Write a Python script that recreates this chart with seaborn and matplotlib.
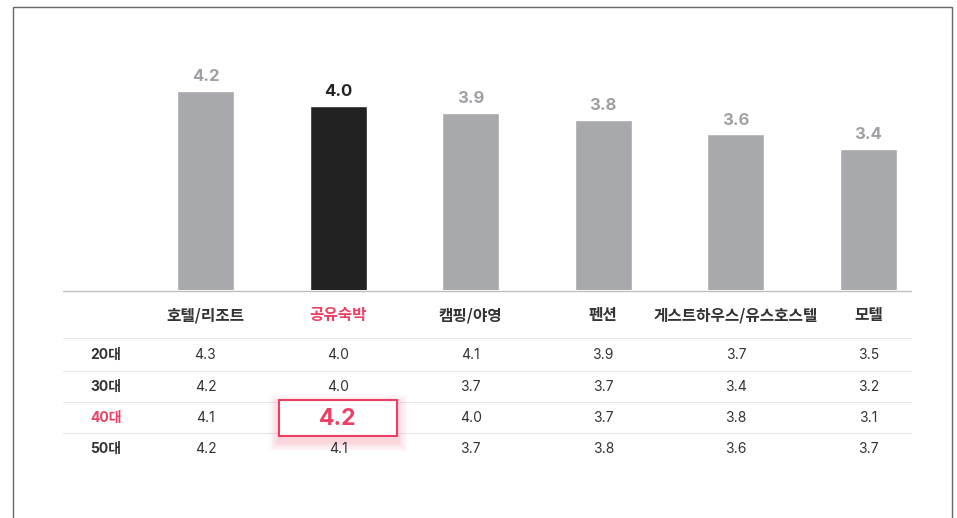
import matplotlib
matplotlib.use('Agg')
import matplotlib.pyplot as plt
import matplotlib.patches as mpatches
import seaborn as sns
import pandas as pd

# data
categories = ['호텔/리조트', '공유숙박', '캠핑/야영', '펜션', '게스트하우스/유스호스텔', '모텔']
overall = [4.2, 4.0, 3.9, 3.8, 3.6, 3.4]
age_groups = ['20대', '30대', '40대', '50대']
by_age = {
    '20대': [4.3, 4.0, 4.1, 3.9, 3.7, 3.5],
    '30대': [4.2, 4.0, 3.7, 3.7, 3.4, 3.2],
    '40대': [4.1, 4.2, 4.0, 3.7, 3.8, 3.1],
    '50대': [4.2, 4.1, 3.7, 3.8, 3.6, 3.7],
}
focus_cat = '공유숙박'
focus_age = '40대'

GRAY = '#a8a9ad'
BLACK = '#222222'
PINK = '#ee3f63'
TEXT = '#333333'
NUM_FONT = ['Inter', 'Noto Sans CJK KR', 'DejaVu Sans']

sns.set_theme(style='white')
plt.rcParams['font.family'] = ['Noto Sans CJK KR', 'DejaVu Sans']

W, H = 957, 518
fig = plt.figure(figsize=(W / 100, H / 100), dpi=100)

# frame border
fig.patches.append(mpatches.Rectangle((13 / W, -0.01), (952 - 13) / W, (H - 7) / H + 0.01,
                                      transform=fig.transFigure, fill=False,
                                      edgecolor='#666666', linewidth=1.0))

x0, x1 = 63, 912
left = x0 / W
width = (x1 - x0) / W
# category positions: center of first bar at 205.5px, step 132.6px
step = 132.6
xlim = (-(205.5 - x0) / step, (x1 - 205.5) / step)

# bar axes: baseline at y=290px
base_px, top_px = 290, 20
ax = fig.add_axes([left, (H - base_px) / H, width, (base_px - top_px) / H])
df = pd.DataFrame({'cat': categories, 'score': overall})
colors = [BLACK if c == focus_cat else GRAY for c in categories]
sns.barplot(data=df, x='cat', y='score', hue='cat', palette=colors, order=categories,
            hue_order=categories, width=0.43, legend=False, ax=ax, saturation=1)
px_per_unit = 72
v0 = 1.44
ax.set_xlim(*xlim)
ax.set_ylim(v0, v0 + (base_px - top_px) / px_per_unit)
for i, (c, v) in enumerate(zip(categories, overall)):
    ax.annotate(f'{v:.1f}', (i, v), xytext=(0, 5), textcoords='offset points',
                ha='center', va='bottom', fontsize=12, fontweight='bold', family=NUM_FONT,
                color=BLACK if c == focus_cat else '#9fa0a4')
ax.axis('off')

# table axes, y in pixel units
tax = fig.add_axes([left, 0, width, (H - base_px) / H])
tax.set_xlim(*xlim)
tax.set_ylim(H, base_px)
tax.axis('off')
tax.axhline(base_px + 0.5, color='#bdbdbd', lw=1.0)

label_x = (106 - 205.5) / step
header_y = 315
for i, c in enumerate(categories):
    tax.text(i, header_y, c, ha='center', va='center', fontsize=11.3, fontweight='bold',
             color=PINK if c == focus_cat else TEXT)

for yy in [338, 371, 402, 433]:
    tax.axhline(yy, color='#e6e6e6', lw=0.8)

row_y = [355, 387, 418, 449]
for ry, age in zip(row_y, age_groups):
    tax.text(label_x, ry, age, ha='center', va='center', fontsize=10, fontweight='bold',
             family=NUM_FONT, color=PINK if age == focus_age else TEXT)
    for i, (c, v) in enumerate(zip(categories, by_age[age])):
        if c == focus_cat and age == focus_age:
            ci = categories.index(c)
            bw, bh = 118 / step, 36
            # soft shadow, offset downward
            for k, a in enumerate([0.04, 0.05, 0.06, 0.07]):
                g = (4 - k) * 2.5
                tax.add_patch(mpatches.Rectangle((ci - bw / 2 - g / step, ry - bh / 2 - g + 5),
                                                 bw + 2 * g / step, bh + 2 * g,
                                                 facecolor=PINK, edgecolor='none', alpha=a, zorder=3))
            tax.add_patch(mpatches.Rectangle((ci - bw / 2, ry - bh / 2), bw, bh,
                                             facecolor='white', edgecolor=PINK, lw=1.5, zorder=4))
            tax.text(i, ry + 1, f'{v:.1f}', ha='center', va='center', fontsize=16.5,
                     fontweight='bold', family=NUM_FONT, color=PINK, zorder=5)
        else:
            tax.text(i, ry, f'{v:.1f}', ha='center', va='center', fontsize=10,
                     family=NUM_FONT, color=TEXT)

fig.savefig('out.png', dpi=100)
